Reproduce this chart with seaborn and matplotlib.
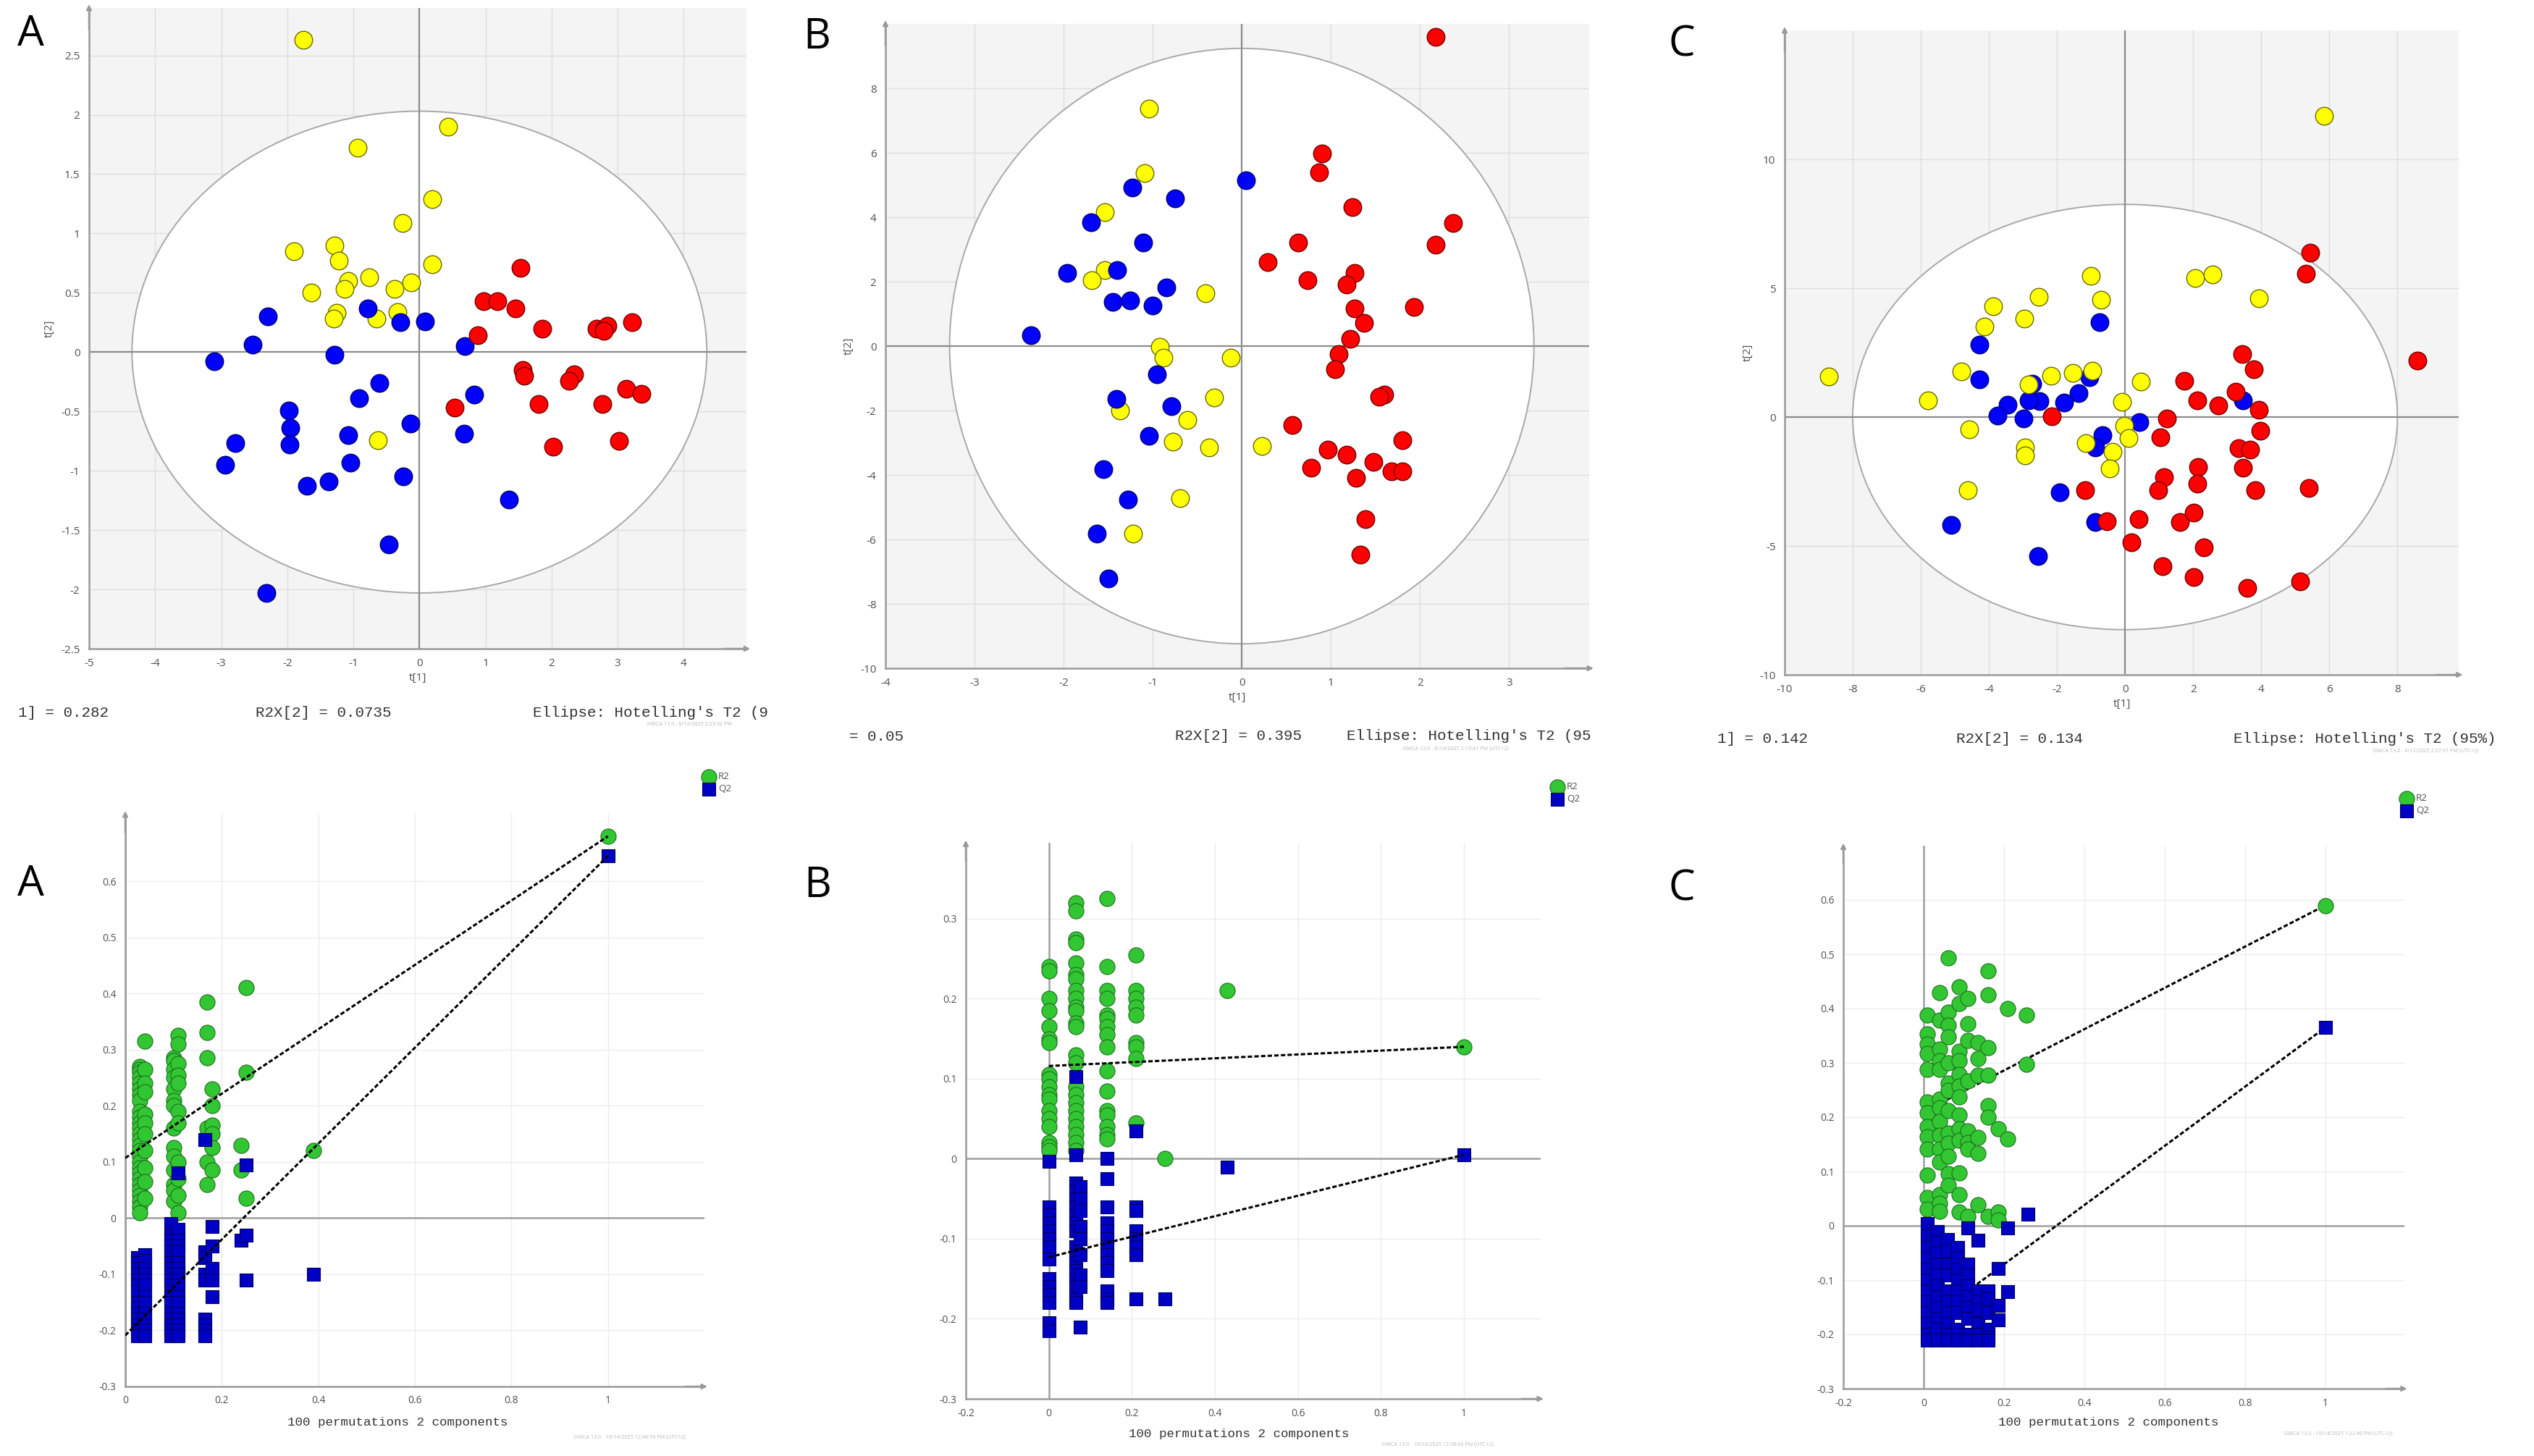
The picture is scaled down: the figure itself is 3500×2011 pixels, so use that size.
"""
SIMCA-style PCA score plots (top row) and permutation tests (bottom row).
"""

import numpy as np
import pandas as pd
import matplotlib
matplotlib.use("Agg")
import matplotlib.pyplot as plt
import seaborn as sns
from matplotlib.patches import Ellipse
from matplotlib.ticker import AutoMinorLocator, FuncFormatter

# ---------------- score plot data (t[1], t[2]) ----------------
# Panel A
a_yel_t1 = [-1.76, 0.44, -0.94, 0.19, -0.26, -1.28, -1.90, -1.22, 0.19, -1.08, -0.76, -0.12,
            -1.13, -0.38, -1.64, -1.25, -1.30, -0.33, -0.65, -0.63]
a_yel_t2 = [2.63, 1.90, 1.72, 1.29, 1.09, 0.90, 0.85, 0.77, 0.74, 0.60, 0.63, 0.59,
            0.53, 0.53, 0.50, 0.33, 0.28, 0.34, 0.28, -0.74]
a_blu_t1 = [-2.29, -2.52, -3.10, -0.78, -0.29, 0.09, -1.28, 0.69, -0.61, -0.91, 0.83, -1.98, -1.95,
            -1.96, -2.79, -2.94, -1.08, -0.13, 0.68, -1.04, -1.70, -1.37, -0.24, 1.36, -0.46, -2.32]
a_blu_t2 = [0.30, 0.06, -0.08, 0.37, 0.25, 0.26, -0.02, 0.05, -0.26, -0.39, -0.36, -0.49, -0.64,
            -0.78, -0.77, -0.95, -0.70, -0.60, -0.69, -0.93, -1.13, -1.09, -1.05, -1.24, -1.62, -2.03]
a_red_t1 = [1.53, 0.97, 1.18, 1.45, 0.88, 1.86, 2.68, 2.80, 2.85, 2.79, 3.22, 1.56, 1.59, 2.34,
            2.26, 3.13, 3.36, 0.53, 1.80, 2.77, 2.02, 3.02]
a_red_t2 = [0.71, 0.43, 0.43, 0.37, 0.14, 0.20, 0.20, 0.20, 0.22, 0.18, 0.25, -0.15, -0.20, -0.19,
            -0.24, -0.31, -0.35, -0.47, -0.44, -0.44, -0.80, -0.75]

# Panel B
b_yel_t1 = [-1.04, -1.09, -1.54, -1.54, -1.68, -0.41, -0.92, -0.88, -0.12, -0.31, -1.37, -0.61,
            -0.77, -0.37, 0.23, -0.69, -1.22]
b_yel_t2 = [7.37, 5.37, 4.15, 2.36, 2.05, 1.64, -0.03, -0.35, -0.35, -1.60, -2.01, -2.30,
            -2.96, -3.15, -3.11, -4.72, -5.82]
b_blu_t1 = [0.05, -1.23, -0.75, -1.69, -1.11, -1.96, -1.40, -0.85, -1.45, -1.25, -1.00, -2.37,
            -0.95, -1.41, -0.79, -1.04, -1.55, -1.28, -1.63, -1.50]
b_blu_t2 = [5.15, 4.93, 4.59, 3.84, 3.22, 2.27, 2.36, 1.83, 1.36, 1.41, 1.26, 0.34,
            -0.88, -1.64, -1.86, -2.79, -3.81, -4.76, -5.82, -7.21]
b_red_t1 = [2.18, 0.90, 0.87, 1.24, 2.37, 2.18, 0.63, 0.29, 0.74, 1.27, 1.18, 1.93, 1.27, 1.37,
            1.22, 1.09, 1.05, 1.60, 1.54, 0.57, 1.80, 0.97, 1.18, 0.78, 1.48, 1.28, 1.68, 1.80,
            1.39, 1.33]
b_red_t2 = [9.60, 5.98, 5.39, 4.32, 3.83, 3.15, 3.22, 2.61, 2.05, 2.27, 1.92, 1.22, 1.17, 0.73,
            0.22, -0.25, -0.72, -1.50, -1.57, -2.45, -2.92, -3.22, -3.36, -3.77, -3.59, -4.10,
            -3.88, -3.88, -5.38, -6.48]

# Panel C
c_yel_t1 = [5.85, -8.70, -1.01, 2.05, 2.56, 3.92, -2.54, -0.71, -3.87, -2.96, -4.12, -4.81,
            -2.17, -1.53, -0.96, -2.83, 0.47, -5.79, -0.10, -4.58, -0.03, 0.10, -1.16, -0.37,
            -2.93, -2.93, -0.45, -4.61]
c_yel_t2 = [11.69, 1.56, 5.49, 5.38, 5.53, 4.61, 4.67, 4.56, 4.30, 3.82, 3.51, 1.76,
            1.61, 1.70, 1.81, 1.26, 1.39, 0.66, 0.60, -0.49, -0.35, -0.81, -1.01, -1.35,
            -1.17, -1.48, -1.99, -2.85]
c_blu_t1 = [-0.74, -4.27, -4.27, -2.73, -1.04, -1.36, -1.80, -2.51, -2.84, -3.45, -3.75, -2.98,
            3.47, 0.42, -0.66, -0.87, -1.92, -0.87, -5.11, -2.56]
c_blu_t2 = [3.68, 2.80, 1.45, 1.30, 1.54, 0.93, 0.57, 0.62, 0.64, 0.48, 0.05, -0.05,
            0.66, -0.20, -0.71, -1.17, -2.91, -4.08, -4.19, -5.38]
c_red_t1 = [5.43, 5.32, 8.58, 3.45, 3.79, 1.75, 3.25, 2.12, 2.73, 3.92, -2.15, 1.23, 3.97, 1.03,
            3.33, 3.67, 2.15, 3.47, 1.14, 0.98, 2.12, 3.82, 5.40, -1.18, -0.54, 0.39, 1.62,
            2.02, 0.19, 2.32, 1.11, 2.02, 5.15, 3.58]
c_red_t2 = [6.39, 5.56, 2.20, 2.45, 1.85, 1.41, 0.99, 0.66, 0.46, 0.29, 0.04, -0.07, -0.53,
            -0.79, -1.21, -1.26, -1.94, -1.96, -2.32, -2.85, -2.58, -2.85, -2.76, -2.85, -4.04,
            -3.95, -4.08, -3.71, -4.85, -5.05, -5.78, -6.20, -6.39, -6.62]

# Hotelling T2 (95%) ellipse semi-axes (t[1], t[2])
ellipse_a = [4.35, 3.28, 8.0]
ellipse_b = [2.03, 9.24, 8.25]
r2x_1 = ["1] = 0.282", "= 0.05", "1] = 0.142"]
r2x_2 = ["R2X[2] = 0.0735", "R2X[2] = 0.395", "R2X[2] = 0.134"]
ellipse_txt = ["Ellipse: Hotelling's T2 (9", "Ellipse: Hotelling's T2 (95",
               "Ellipse: Hotelling's T2 (95%)"]
top_stamp = ["SIMCA 13.0 - 6/12/2025 2:23:32 PM", "SIMCA 13.0 - 6/14/2025 2:19:41 PM (UTC+2)",
             "SIMCA 13.0 - 6/12/2025 2:27:31 PM (UTC+2)"]

# ---------------- permutation test data ----------------
# each entry: (correlation x, list of R2 / Q2 values in that column)
pa_r2 = [(0.03, [0.27, 0.265, 0.26, 0.25, 0.24, 0.23, 0.22, 0.21, 0.19, 0.18, 0.17, 0.16, 0.15, 0.14,
                 0.13, 0.12, 0.11, 0.10, 0.09, 0.08, 0.07, 0.06, 0.05, 0.04, 0.03, 0.02, 0.01]),
         (0.04, [0.315, 0.265, 0.24, 0.225, 0.185, 0.17, 0.15, 0.12, 0.09, 0.065, 0.035]),
         (0.10, [0.285, 0.28, 0.265, 0.25, 0.23, 0.21, 0.20, 0.16, 0.125, 0.11, 0.085, 0.06, 0.05, 0.03]),
         (0.11, [0.325, 0.31, 0.275, 0.255, 0.24, 0.19, 0.17, 0.10, 0.07, 0.04, 0.01]),
         (0.17, [0.385, 0.33, 0.285, 0.16, 0.10, 0.06]),
         (0.18, [0.23, 0.20, 0.165, 0.15, 0.125, 0.085]),
         (0.24, [0.13, 0.085]),
         (0.25, [0.41, 0.26, 0.035]),
         (0.39, [0.12]),
         (1.00, [0.68])]
pa_q2 = [(0.025, [-0.07, -0.08, -0.09, -0.10, -0.11, -0.12, -0.13, -0.15, -0.16, -0.17, -0.18,
                  -0.19, -0.20, -0.21]),
         (0.04, [-0.065, -0.075, -0.09, -0.10, -0.11, -0.12, -0.14, -0.15, -0.17, -0.18, -0.19,
                 -0.20, -0.21]),
         (0.095, [-0.01, -0.03, -0.04, -0.05, -0.06, -0.07, -0.08, -0.09, -0.10, -0.11, -0.12,
                  -0.13, -0.14, -0.15, -0.17, -0.18, -0.19, -0.20, -0.21]),
         (0.11, [0.08, -0.02, -0.04, -0.05, -0.06, -0.08, -0.09, -0.10, -0.11, -0.12, -0.14,
                 -0.15, -0.17, -0.18, -0.19, -0.20, -0.21]),
         (0.165, [0.14, -0.06, -0.07, -0.10, -0.11, -0.18, -0.19, -0.20, -0.21]),
         (0.18, [-0.015, -0.05, -0.09, -0.11, -0.14]),
         (0.24, [-0.04]),
         (0.25, [0.095, -0.03, -0.11]),
         (0.39, [-0.10]),
         (1.00, [0.645])]

pb_r2 = [(0.0, [0.24, 0.235, 0.20, 0.185, 0.165, 0.15, 0.145, 0.105, 0.10, 0.09, 0.08, 0.075, 0.06,
                0.05, 0.04, 0.02, 0.015, 0.01]),
         (0.066, [0.32, 0.31, 0.275, 0.27, 0.245, 0.23, 0.225, 0.21, 0.20, 0.19, 0.185, 0.17, 0.165,
                  0.13, 0.12, 0.09, 0.08, 0.07, 0.06, 0.05, 0.04, 0.03, 0.02, 0.01]),
         (0.14, [0.325, 0.24, 0.21, 0.20, 0.18, 0.175, 0.165, 0.155, 0.14, 0.11, 0.085, 0.06, 0.055,
                 0.04, 0.03, 0.025]),
         (0.21, [0.255, 0.21, 0.20, 0.19, 0.18, 0.145, 0.14, 0.125, 0.045]),
         (0.28, [0.0]),
         (0.43, [0.21]),
         (1.00, [0.14])]
pb_q2 = [(0.0, [-0.003, -0.06, -0.07, -0.08, -0.09, -0.10, -0.11, -0.125, -0.15, -0.16, -0.17,
                -0.18, -0.205, -0.215]),
         (0.066, [0.103, 0.005, -0.03, -0.04, -0.05, -0.06, -0.07, -0.08, -0.09, -0.11, -0.12,
                  -0.13, -0.14, -0.15, -0.16, -0.175, -0.18]),
         (0.075, [-0.035, -0.05, -0.065, -0.085, -0.10, -0.12, -0.145, -0.16, -0.21]),
         (0.14, [0.0, -0.025, -0.06, -0.08, -0.09, -0.10, -0.11, -0.12, -0.13, -0.14, -0.165,
                 -0.175, -0.18]),
         (0.21, [0.035, -0.06, -0.065, -0.09, -0.10, -0.11, -0.12, -0.175]),
         (0.28, [-0.175]),
         (0.43, [-0.01]),
         (1.00, [0.005])]

pc_r2 = [(0.01, [0.388, 0.354, 0.335, 0.317, 0.2875, 0.2275, 0.208, 0.183, 0.164, 0.142, 0.093,
                 0.052, 0.031]),
         (0.039, [0.429, 0.379, 0.325, 0.304, 0.2875, 0.233, 0.217, 0.192, 0.167, 0.142, 0.118,
                  0.057, 0.042, 0.027]),
         (0.062, [0.493, 0.393, 0.37, 0.348, 0.30, 0.2625, 0.25, 0.2125, 0.171, 0.1525, 0.1275,
                  0.096, 0.075]),
         (0.088, [0.44, 0.41, 0.321, 0.304, 0.279, 0.258, 0.2375, 0.204, 0.179, 0.158, 0.0975,
                  0.058, 0.025]),
         (0.11, [0.419, 0.372, 0.341, 0.267, 0.175, 0.154, 0.142, 0.017]),
         (0.135, [0.3375, 0.308, 0.2775, 0.1625, 0.133, 0.039]),
         (0.16, [0.469, 0.425, 0.328, 0.2775, 0.221, 0.20, 0.017]),
         (0.185, [0.179, 0.025, 0.011]),
         (0.21, [0.40, 0.16]),
         (0.256, [0.388, 0.298]),
         (1.00, [0.59])]
pc_q2 = [(0.01, [0.004, -0.02, -0.04, -0.06, -0.08, -0.10, -0.12, -0.14, -0.16, -0.18, -0.20, -0.21]),
         (0.035, [-0.01, -0.03, -0.05, -0.07, -0.09, -0.11, -0.13, -0.15, -0.17, -0.19, -0.21]),
         (0.06, [-0.025, -0.045, -0.07, -0.09, -0.12, -0.14, -0.16, -0.18, -0.20, -0.21]),
         (0.085, [-0.04, -0.06, -0.08, -0.10, -0.12, -0.14, -0.16, -0.19, -0.21]),
         (0.11, [-0.004, -0.07, -0.09, -0.11, -0.13, -0.15, -0.17, -0.20, -0.21]),
         (0.135, [-0.027, -0.12, -0.14, -0.155, -0.18, -0.20, -0.21]),
         (0.16, [-0.12, -0.135, -0.16, -0.19, -0.205, -0.21]),
         (0.186, [-0.078, -0.146, -0.173]),
         (0.21, [-0.004, -0.121]),
         (0.26, [0.021]),
         (1.00, [0.365])]

# regression lines: intercept at x=0 and the real model at x=1
pa_r2_line = [0.107, 0.68]
pa_q2_line = [-0.209, 0.645]
pb_r2_line = [0.116, 0.14]
pb_q2_line = [-0.123, 0.005]
pc_r2_line = [0.21, 0.59]
pc_q2_line = [-0.18, 0.365]
line_x = [0.0, 1.0]
perm_stamp = ["SIMCA 13.0 - 10/14/2025 12:48:59 PM (UTC+2)",
              "SIMCA 13.0 - 10/14/2025 12:58:43 PM (UTC+2)",
              "SIMCA 13.0 - 10/14/2025 1:22:40 PM (UTC+2)"]

W, H = 3500, 2011
AX_GREY = "#9a9a9a"
TICK_COL = "#505050"
MONO = ["Liberation Mono", "DejaVu Sans Mono"]


def px_rect(left, top, right, bottom):
    """Pixel box -> figure fraction rect."""
    return [left / W, 1 - bottom / H, (right - left) / W, (bottom - top) / H]


def style_axes(ax, xlim, ylim, xticks, yticks, bg, tick_fs):
    ax.set_facecolor(bg)
    ax.set_xlim(*xlim)
    ax.set_ylim(*ylim)
    ax.set_xticks(xticks)
    ax.set_yticks(yticks)
    fmt = FuncFormatter(lambda v, _: f"{round(v, 3):g}")
    ax.xaxis.set_major_formatter(fmt)
    ax.yaxis.set_major_formatter(fmt)
    ax.xaxis.set_minor_locator(AutoMinorLocator(2))
    ax.yaxis.set_minor_locator(AutoMinorLocator(2))
    for side in ["top", "right"]:
        ax.spines[side].set_visible(False)
    for side in ["left", "bottom"]:
        ax.spines[side].set_color(AX_GREY)
        ax.spines[side].set_linewidth(0.9)
    ax.tick_params(which="major", length=3, width=0.6, color=AX_GREY,
                   labelsize=tick_fs, labelcolor=TICK_COL, pad=1.5)
    ax.tick_params(which="minor", length=1.5, width=0.5, color=AX_GREY)
    ax.set_axisbelow(True)
    # arrow heads at the axis ends
    ax.annotate("", xy=(1.012, 0), xytext=(0.96, 0), xycoords="axes fraction",
                arrowprops=dict(arrowstyle="-|>", color=AX_GREY, lw=0.9,
                                mutation_scale=5), annotation_clip=False)
    ax.annotate("", xy=(0, 1.012), xytext=(0, 0.96), xycoords="axes fraction",
                arrowprops=dict(arrowstyle="-|>", color=AX_GREY, lw=0.9,
                                mutation_scale=5), annotation_clip=False)


def score_panel(fig, rect, groups, ell, xlim, ylim, xticks, yticks):
    ax = fig.add_axes(rect)
    style_axes(ax, xlim, ylim, xticks, yticks, "#f4f4f4", 5.5)
    ax.grid(True, which="major", color="#dedede", lw=0.5)
    ax.add_patch(Ellipse((0, 0), 2 * ell[0], 2 * ell[1], facecolor="white",
                         edgecolor="#a8a8a8", lw=0.7, zorder=1))
    ax.axhline(0, color="#8c8c8c", lw=0.8, zorder=1.5)
    ax.axvline(0, color="#8c8c8c", lw=0.8, zorder=1.5)
    for t1, t2, col, edge in groups:
        sns.scatterplot(x=t1, y=t2, color=col, edgecolor=edge, linewidth=0.5,
                        s=78, ax=ax, legend=False, zorder=3)
    ax.set_xlabel("t[1]", fontsize=5.5, color=TICK_COL, labelpad=2)
    ax.set_ylabel("t[2]", fontsize=5.5, color=TICK_COL, labelpad=3)
    return ax


def expand(cols):
    rows = [(x, y) for x, ys in cols for y in ys]
    return pd.DataFrame(rows, columns=["x", "y"])


def perm_panel(fig, rect, r2, q2, r2_line, q2_line, xlim, ylim, xticks, yticks,
               leg_xy, line_z):
    ax = fig.add_axes(rect)
    style_axes(ax, xlim, ylim, xticks, yticks, "white", 5)
    ax.grid(True, which="major", color="#ececec", lw=0.5)
    ax.axhline(0, color="#a0a0a0", lw=0.9, zorder=1.5)
    ax.axvline(0, color="#a0a0a0", lw=0.9, zorder=1.5)
    d_r2 = expand(r2)
    d_q2 = expand(q2)
    sns.scatterplot(data=d_r2, x="x", y="y", color="#33c633", edgecolor="#1d6e1d",
                    linewidth=0.4, s=58, marker="o", ax=ax, zorder=3, label="R2")
    sns.scatterplot(data=d_q2, x="x", y="y", color="#0000c4", edgecolor="#00005a",
                    linewidth=0.4, s=42, marker="s", ax=ax, zorder=3, label="Q2")
    lines = pd.DataFrame({"x": line_x * 2, "y": r2_line + q2_line,
                          "stat": ["R2", "R2", "Q2", "Q2"]})
    for stat in ["R2", "Q2"]:
        sub = lines[lines["stat"] == stat]
        sns.lineplot(data=sub, x="x", y="y", color="black", lw=1.1,
                     linestyle=(0, (2.0, 1.0)), ax=ax, zorder=line_z, legend=False)
    ax.set_xlabel("")
    ax.set_ylabel("")
    leg = ax.legend(loc="upper left", bbox_to_anchor=(leg_xy[0] / W, 1 - leg_xy[1] / H),
                    bbox_transform=fig.transFigure, frameon=False, fontsize=4.8,
                    handletextpad=0.2, labelspacing=0.3, borderpad=0, borderaxespad=0,
                    handlelength=1.6, markerscale=1.0)
    for t in leg.get_texts():
        t.set_color(TICK_COL)
    return ax


sns.set_style("white")
plt.rcParams["font.family"] = ["Open Sans", "DejaVu Sans"]
plt.rcParams["axes.unicode_minus"] = False

fig = plt.figure(figsize=(17.5, 10.055), dpi=200)

# ---------------- top row: score plots ----------------
YEL = ("#ffff00", "#6b6b00")
BLU = ("#0000ff", "#000070")
RED = ("#ff0000", "#700000")

axA = score_panel(fig, px_rect(123, 11, 1031, 896),
                  [(a_yel_t1, a_yel_t2, *YEL), (a_blu_t1, a_blu_t2, *BLU), (a_red_t1, a_red_t2, *RED)],
                  (ellipse_a[0], ellipse_b[0]), (-5, 4.95), (-2.5, 2.9),
                  np.arange(-5, 5, 1), np.arange(-2.5, 2.6, 0.5))
axB = score_panel(fig, px_rect(1223, 33, 2195, 923),
                  [(b_yel_t1, b_yel_t2, *YEL), (b_blu_t1, b_blu_t2, *BLU), (b_red_t1, b_red_t2, *RED)],
                  (ellipse_a[1], ellipse_b[1]), (-4, 3.9), (-10, 10),
                  np.arange(-4, 4, 1), np.arange(-10, 9, 2))
axC = score_panel(fig, px_rect(2465, 42, 3396, 932),
                  [(c_blu_t1, c_blu_t2, *BLU), (c_red_t1, c_red_t2, *RED), (c_yel_t1, c_yel_t2, *YEL)],
                  (ellipse_a[2], ellipse_b[2]), (-10, 9.8), (-10, 15),
                  np.arange(-10, 9, 2), np.arange(-10, 11, 5))

# text lines under the score plots (pixel positions)
top_text_y = [984, 1017, 1020]
stat1_x = [25, 1173, 2372]
stat2_x = [353, 1623, 2702]
ell_x = [736, 1860, 3085]
stamp_x = [893, 1937, 3277]
for i in range(3):
    y = 1 - top_text_y[i] / H
    fig.text(stat1_x[i] / W, y, r2x_1[i], family=MONO, fontsize=7.5, color="#333333", va="center")
    fig.text(stat2_x[i] / W, y, r2x_2[i], family=MONO, fontsize=7.5, color="#333333", va="center")
    fig.text(ell_x[i] / W, y, ellipse_txt[i], family=MONO, fontsize=7.5, color="#333333", va="center")
    fig.text(stamp_x[i] / W, 1 - (top_text_y[i] + 17) / H, top_stamp[i], fontsize=2.6,
             color="#b8b8b8", va="center")

# ---------------- bottom row: permutation plots ----------------
pA = perm_panel(fig, px_rect(173, 1124, 973, 1915), pa_r2, pa_q2, pa_r2_line, pa_q2_line,
                (0, 1.2), (-0.3, 0.72), np.arange(0, 1.01, 0.2), np.arange(-0.3, 0.61, 0.1),
                (968, 1066), 4)
pB = perm_panel(fig, px_rect(1334, 1164, 2128, 1932), pb_r2, pb_q2, pb_r2_line, pb_q2_line,
                (-0.2, 1.185), (-0.3, 0.395), np.arange(-0.2, 1.01, 0.2), np.arange(-0.3, 0.31, 0.1),
                (2140, 1080), 4)
pC = perm_panel(fig, px_rect(2546, 1168, 3321, 1918), pc_r2, pc_q2, pc_r2_line, pc_q2_line,
                (-0.2, 1.197), (-0.3, 0.7), np.arange(-0.2, 1.01, 0.2), np.arange(-0.3, 0.61, 0.1),
                (3313, 1096), 2)

perm_label_y = [1964, 1980, 1964]
perm_label_x = [549, 1711, 2912]
perm_stamp_x = [792, 1908, 3154]
perm_stamp_y = [1985, 1995, 1980]
for i in range(3):
    fig.text(perm_label_x[i] / W, 1 - perm_label_y[i] / H, "100 permutations 2 components",
             family=MONO, fontsize=6.3, color="#333333", ha="center", va="center")
    fig.text(perm_stamp_x[i] / W, 1 - perm_stamp_y[i] / H, perm_stamp[i], fontsize=2.6,
             color="#b8b8b8", va="center")

# panel letters
letters = ["A", "B", "C", "A", "B", "C"]
letter_x = [42, 1128, 2323, 42, 1129, 2323]
letter_y = [48, 52, 62, 1222, 1224, 1228]
for lab, lx, ly in zip(letters, letter_x, letter_y):
    fig.text(lx / W, 1 - ly / H, lab, fontsize=21, color="black", ha="center", va="center",
             family=["Open Sans", "DejaVu Sans"])

fig.savefig("out.png", dpi=200, facecolor="white")
